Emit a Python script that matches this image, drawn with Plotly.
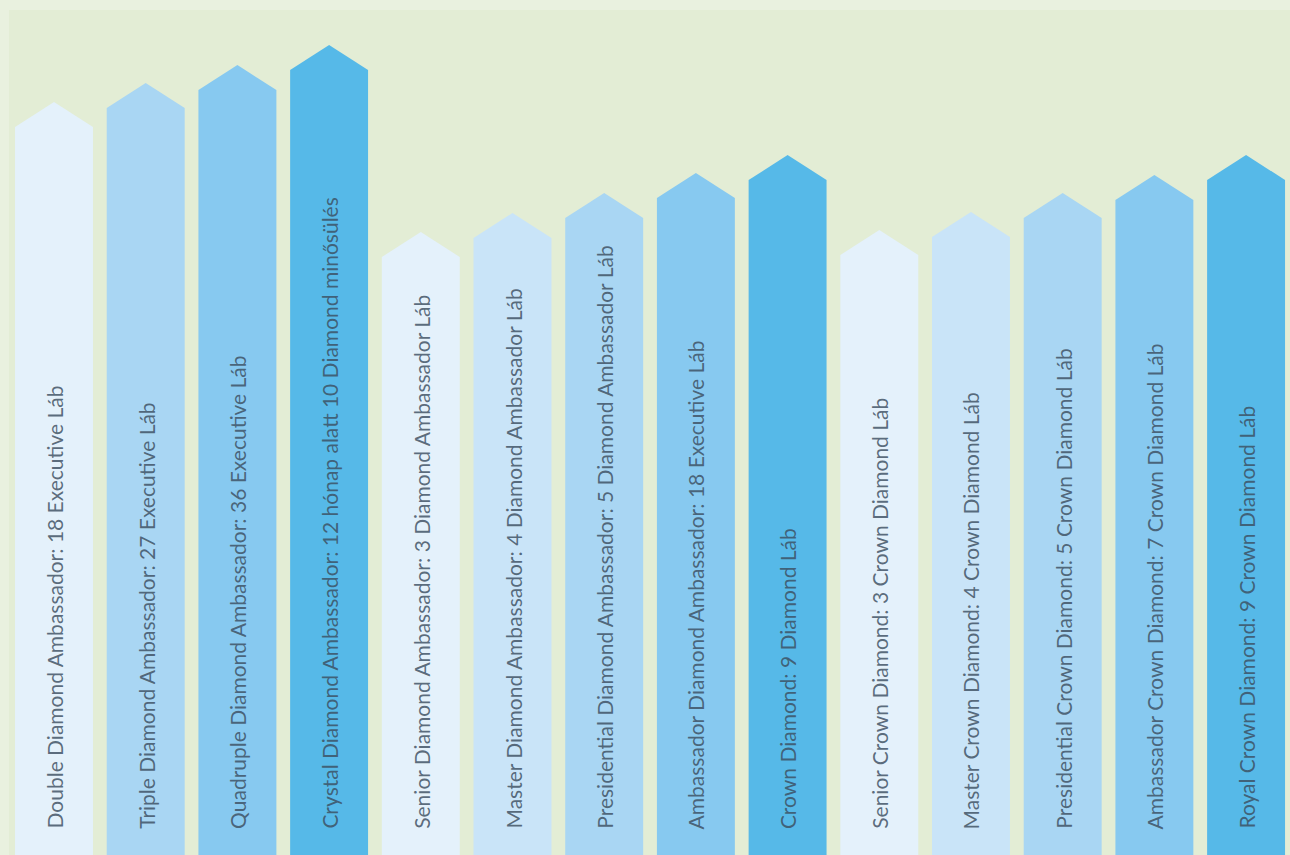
import plotly.graph_objects as go

# ---- data ----
labels = [
    "Double Diamond Ambassador: 18 Executive Láb",
    "Triple Diamond Ambassador: 27 Executive Láb",
    "Quadruple Diamond Ambassador: 36 Executive Láb",
    "Crystal Diamond Ambassador: 12 hónap alatt 10 Diamond minősülés",
    "Senior Diamond Ambassador: 3 Diamond Ambassador Láb",
    "Master Diamond Ambassador: 4 Diamond Ambassador Láb",
    "Presidential Diamond Ambassador: 5 Diamond Ambassador Láb",
    "Ambassador Diamond Ambassador: 18 Executive Láb",
    "Crown Diamond: 9 Diamond Láb",
    "Senior Crown Diamond: 3 Crown Diamond Láb",
    "Master Crown Diamond: 4 Crown Diamond Láb",
    "Presidential Crown Diamond: 5 Crown Diamond Láb",
    "Ambassador Crown Diamond: 7 Crown Diamond Láb",
    "Royal Crown Diamond: 9 Crown Diamond Láb",
]
values = [728, 747, 765, 785, 598, 617, 637, 657, 675, 600, 618, 637, 655, 675]
colors = ["#e4f1fb", "#a9d6f3", "#87c9f0", "#56b9e8",
          "#e4f1fb", "#c9e4f8", "#a9d6f3", "#87c9f0", "#56b9e8",
          "#e4f1fb", "#c9e4f8", "#a9d6f3", "#87c9f0", "#56b9e8"]

# ---- style ----
BAR_W = 0.85
HEAD = 25
TEXT_BASE = 24

fig = go.Figure()

# inner background panel
fig.add_shape(type="rect", xref="paper", yref="paper", x0=9/1290, x1=1, y0=0, y1=1-10/855,
              fillcolor="#e3edd5", line_width=0, layer="below")

for i, (v, c) in enumerate(zip(values, colors)):
    xl, xr = i - BAR_W / 2, i + BAR_W / 2
    xs = [xl, xl, i, xr, xr, xl]
    ys = [0, v, v + HEAD, v, 0, 0]
    fig.add_trace(go.Scatter(x=xs, y=ys, fill="toself", fillcolor=c, mode="lines",
                             line=dict(width=0, color=c), hoverinfo="skip", showlegend=False))
    fig.add_annotation(x=i, y=TEXT_BASE, text=labels[i], textangle=-90, showarrow=False,
                       xanchor="center", yanchor="bottom",
                       font=dict(family="Lato", size=21, color="rgba(60,78,96,0.82)"))

fig.update_layout(
    width=1290, height=855,
    margin=dict(l=0, r=0, t=0, b=0),
    paper_bgcolor="#e9f1df",
    plot_bgcolor="rgba(0,0,0,0)",
    xaxis=dict(range=[-0.589, 13.479], visible=False, fixedrange=True),
    yaxis=dict(range=[0, 855], visible=False, fixedrange=True),
)

fig.write_html("out.html")
